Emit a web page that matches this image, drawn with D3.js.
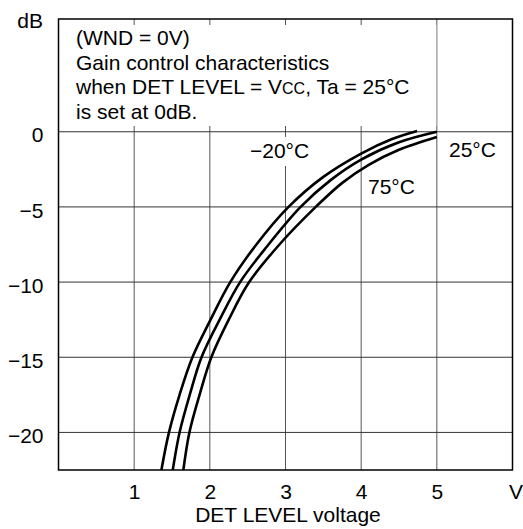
<!DOCTYPE html>
<html>
<head>
<meta charset="utf-8">
<script src="https://cdn.jsdelivr.net/npm/d3@7"></script>
<style>
  body { margin: 0; background: #fff; }
  text { font-family: "Liberation Sans", Arial, Helvetica, sans-serif; fill: #000; }
</style>
</head>
<body>
<div id="chart"></div>
<script>
var w = 523,
    h = 529;

// DET LEVEL voltage (V) / gain (dB)
var voltsCold = [1.36, 1.46, 1.6, 1.77, 2.0, 2.27, 2.6, 3.04, 3.5, 4.0, 4.4, 4.74];
var gainCold  = [-22.5, -20, -17.5, -15, -12.6, -10, -7.6, -5, -3.0, -1.45, -0.5, 0.05];
var voltsRoom = [1.51, 1.6, 1.74, 1.89, 2.13, 2.4, 2.76, 3.2, 3.6, 4.0, 4.5, 5.0];
var gainRoom  = [-22.5, -20, -17.4, -15, -12.5, -10, -7.6, -5, -3.2, -1.85, -0.7, 0];
var voltsHot  = [1.65, 1.73, 1.87, 2.02, 2.25, 2.52, 2.92, 3.4, 3.75, 4.1, 4.5, 5.0];
var gainHot   = [-22.5, -20, -17.4, -15, -12.5, -10, -7.5, -5, -3.4, -2.2, -1.2, -0.35];

var xTicks = [1, 2, 3, 4, 5, 6];
var yTicks = [0, -5, -10, -15, -20];
var noteLines = ["(WND = 0V)", "Gain control characteristics", "when DET LEVEL = V", "is set at 0dB."];

var x = d3.scaleLinear().domain([0, 6]).range([58.5, 512.5]);
var y = d3.scaleLinear().domain([-22.5, 7.5]).range([470, 19]);

var svg = d3.select("#chart").append("svg")
    .attr("width", w)
    .attr("height", h);

// grid
svg.append("g")
    .selectAll("line")
    .data(xTicks.slice(0, 5))
    .enter().append("line")
    .attr("x1", function(d) { return x(d); })
    .attr("x2", function(d) { return x(d); })
    .attr("y1", y(7.5))
    .attr("y2", y(-22.5))
    .attr("stroke", "#555")
    .attr("stroke-width", 1);

svg.append("g")
    .selectAll("line")
    .data(yTicks)
    .enter().append("line")
    .attr("x1", x(0))
    .attr("x2", x(6))
    .attr("y1", function(d) { return y(d); })
    .attr("y2", function(d) { return y(d); })
    .attr("stroke", "#333")
    .attr("stroke-width", 1);

// note box hides the grid above 0 dB (except short ticks at top)
svg.append("rect")
    .attr("x", x(0) + 1)
    .attr("y", 25)
    .attr("width", x(5) - x(0) - 1.5)
    .attr("height", 101)
    .attr("fill", "#fff");

var note = svg.append("g").style("font-size", "21px");
note.selectAll("text")
    .data(noteLines)
    .enter().append("text")
    .attr("x", 76)
    .attr("y", function(d, i) { return 45 + i * 24.7; })
    .text(function(d) { return d; });

// "Vcc, Ta = 25°C" with small caps cc
var l3 = note.selectAll("text").filter(function(d, i) { return i === 2; });
l3.append("tspan").style("font-size", "16px").text("CC");
l3.append("tspan").text(", Ta = 25°C");

// curves
var line = d3.line()
    .x(function(d) { return x(d[0]); })
    .y(function(d) { return y(d[1]); })
    .curve(d3.curveCatmullRom.alpha(0.5));

var series = [
    d3.zip(voltsCold, gainCold),
    d3.zip(voltsRoom, gainRoom),
    d3.zip(voltsHot, gainHot)
];

svg.append("g")
    .selectAll("path")
    .data(series)
    .enter().append("path")
    .attr("d", line)
    .attr("fill", "none")
    .attr("stroke", "#000")
    .attr("stroke-width", 2.6);

// curve labels
svg.append("rect")
    .attr("x", 248)
    .attr("y", 137)
    .attr("width", 64)
    .attr("height", 29)
    .attr("fill", "#fff");

var labels = svg.append("g").style("font-size", "21px");
labels.append("text").attr("x", 250).attr("y", 158).text("\u221220°C");
labels.append("text").attr("x", 449).attr("y", 157).text("25°C");
labels.append("text").attr("x", 368).attr("y", 194).text("75°C");

// frame
svg.append("rect")
    .attr("x", x(0))
    .attr("y", y(7.5))
    .attr("width", x(6) - x(0))
    .attr("height", y(-22.5) - y(7.5))
    .attr("fill", "none")
    .attr("stroke", "#000")
    .attr("stroke-width", 1.5);

// axes
var xAxis = svg.append("g")
    .attr("transform", "translate(0," + y(-22.5) + ")")
    .call(d3.axisBottom(x)
        .tickValues(xTicks)
        .tickSize(0)
        .tickPadding(14)
        .tickFormat(function(d) { return d === 6 ? "V" : d; }));
xAxis.select(".domain").remove();
xAxis.selectAll("text")
    .style("font-size", "21px")
    .attr("dx", function(d) { return d === 6 ? 3 : 0; });

var yAxis = svg.append("g")
    .attr("transform", "translate(" + x(0) + ",0)")
    .call(d3.axisLeft(y)
        .tickValues(yTicks)
        .tickSize(0)
        .tickPadding(15));
yAxis.select(".domain").remove();
yAxis.selectAll("text")
    .style("font-size", "21px")
    .attr("dy", "0.48em");

svg.append("text")
    .attr("x", 43)
    .attr("y", 28)
    .attr("text-anchor", "end")
    .style("font-size", "21px")
    .text("dB");

svg.append("text")
    .attr("x", 288)
    .attr("y", 522)
    .attr("text-anchor", "middle")
    .style("font-size", "21px")
    .text("DET LEVEL voltage");
</script>
</body>
</html>
